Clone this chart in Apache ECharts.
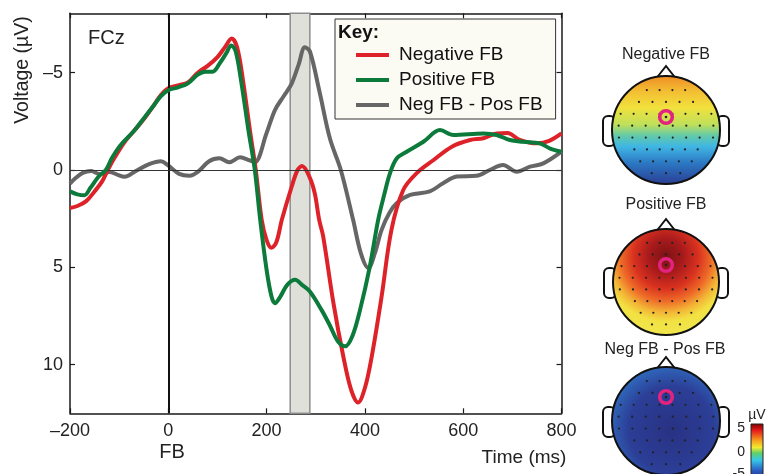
<!DOCTYPE html>
<html><head><meta charset="utf-8">
<script src="https://cdn.jsdelivr.net/npm/echarts@6/dist/echarts.min.js"></script>
<style>html,body{margin:0;padding:0;background:#fff}#c{width:766px;height:474px}</style>
</head><body><div id="c"></div>
<script>
// ---------- data ----------
const xTicks = [-200, 0, 200, 400, 600, 800];
const yTicks = [-5, 0, 5, 10];
const seriesNames = ['Negative FB', 'Positive FB', 'Neg FB - Pos FB'];

const negTimes  = [-200,-185,-167,-150,-135,-123,-110,-90,-70,-50,-30,-15,0,20,40,60,80,100,115,129,140,152,166,178,190,200,210,220,231,251,263,272,288,298,307,315,336,356,372,386,400,414,434,454,478,505,539,577,614,641,668,690,715,750,775,800];
const negValues = [1.95,1.85,1.6,1.1,0.6,0,-0.6,-1.4,-2.0,-2.6,-3.3,-3.85,-4.2,-4.35,-4.5,-5.0,-5.35,-5.8,-6.3,-6.75,-6.3,-4.6,-2.05,0,2.56,3.6,4.0,3.7,2.56,0.86,0.0,-0.2,0.4,1.2,2.56,3.4,6.84,9.57,11.3,11.95,11.2,9.57,6.5,3.08,1.03,0.17,-0.5,-1.2,-1.54,-1.63,-1.88,-1.9,-1.55,-1.37,-1.5,-1.88];

const posTimes  = [-200,-185,-171,-158,-142,-127,-115,-98,-70,-50,-30,-15,0,20,40,60,75,90,105,118,128,137,148,163,176,187,200,210,217,228,242,258,272,288,312,329,345,360,375,390,410,427,440,451,465,485,519,553,580,641,668,695,722,756,777,800];
const posValues = [1.1,1.25,1.3,0.9,0.35,0,-0.6,-1.25,-2.0,-2.65,-3.3,-3.8,-4.1,-4.25,-4.45,-4.9,-5.05,-5.05,-5.5,-6.0,-6.4,-6.1,-4.6,-2.05,0,2.56,5.13,6.5,6.84,6.5,5.9,5.64,5.9,6.24,7.2,8.0,8.8,9.06,8.5,7.2,4.96,2.56,1.2,0.17,-0.6,-0.94,-1.45,-2.05,-1.8,-1.88,-1.8,-1.54,-1.45,-1.37,-1.1,-0.94];

const difTimes  = [-200,-188,-174,-157,-140,-120,-103,-89,-66,-39,-15,-1,22,43,60,83,104,124,146,165,176,200,217,235,251,265,278,288,307,329,351,376,392,407,420,434,450,465,492,532,559,587,627,654,681,709,736,763,800];
const difValues = [0.7,0.4,0.15,0.05,0.2,0.1,0.25,0.35,0.05,-0.3,-0.45,-0.25,0.2,0.3,0.1,-0.45,-0.6,-0.4,-0.65,-0.5,-0.4,-1.9,-3.08,-3.8,-4.44,-5.4,-6.3,-6.1,-4.1,-1.6,0.0,2.56,4.3,5.04,4.3,3.08,2.2,1.7,1.28,1.1,0.68,0.34,0.3,0.0,-0.26,0.09,-0.17,-0.34,-0.94];

const bandStart = 248, bandEnd = 288;

// ---------- chart ----------
const FONT = 'Liberation Sans, Arial, Helvetica, sans-serif';
const zip = (t, v) => t.map((x, i) => [x, v[i]]);
const fmt = v => (v < 0 ? '\u2013' + (-v) : String(v));

const axisLine = { show: true, onZero: false, lineStyle: { color: '#1a1a1a', width: 1.5 } };
const tick = { show: true, inside: true, length: 5, lineStyle: { color: '#1a1a1a', width: 1.2 } };

// topographic head drawings (decoration)
function head(cx, cy, r, fill, ringDy) {
  const els = [];
  [-1, 1].forEach(s => {
    els.push({ type: 'rect', shape: { x: cx + s * (r + 3) - 6, y: cy - 14, width: 12, height: 30, r: 5 },
      style: { fill: '#fff', stroke: '#111', lineWidth: 2 }, z: 10 });
  });
  els.push({ type: 'polygon', shape: { points: [[cx - 11, cy - r + 4], [cx, cy - r - 10], [cx + 11, cy - r + 4]] },
    style: { fill: '#fff', stroke: '#111', lineWidth: 2 }, z: 10 });
  els.push({ type: 'circle', shape: { cx, cy, r }, style: { fill, stroke: '#111', lineWidth: 2 }, z: 11 });
  const rows = [-0.74, -0.52, -0.3, -0.08, 0.14, 0.36, 0.58, 0.8];
  rows.forEach((ry, k) => {
    const half = Math.sqrt(Math.max(0, 1 - ry * ry)) * 0.88;
    const n = Math.max(2, Math.round(half * 2 / 0.25));
    for (let j = 0; j <= n; j++) {
      const rx = -half + j * (2 * half / n);
      if (rx * rx + ry * ry > 0.8) continue;
      els.push({ type: 'circle', shape: { cx: cx + rx * r, cy: cy + ry * r, r: 1.1 }, style: { fill: '#222' }, z: 12 });
    }
  });
  els.push({ type: 'circle', shape: { cx, cy: cy + ringDy, r: 6.3 }, style: { fill: 'none', stroke: '#e2237f', lineWidth: 3.6 }, z: 13 });
  els.push({ type: 'circle', shape: { cx, cy: cy + ringDy, r: 1.3 }, style: { fill: '#222' }, z: 13 });
  return els;
}

const lin = (stops) => ({ type: 'linear', x: 0, y: 0, x2: 0, y2: 1, colorStops: stops.map(s => ({ offset: s[0], color: s[1] })) });
const rad = (x, y, r, stops) => ({ type: 'radial', x, y, r, colorStops: stops.map(s => ({ offset: s[0], color: s[1] })) });

const fill1 = lin([[0, '#ee8a24'], [0.15, '#f3be33'], [0.3, '#f1e13d'], [0.45, '#bfe05a'], [0.55, '#62caa8'], [0.65, '#40b6e4'], [0.8, '#2c78c3'], [1, '#2a3c93']]);
const fill2 = rad(0.5, 0.26, 0.72, [[0, '#7a1214'], [0.22, '#a81a1c'], [0.42, '#d9321f'], [0.58, '#ee6a28'], [0.72, '#f3b436'], [0.84, '#f2e142'], [1, '#f0e64c']]);
const fill3 = rad(0.55, 0.58, 0.78, [[0, '#283283'], [0.5, '#2c3e97'], [0.75, '#2f68bb'], [0.9, '#39a3db'], [1, '#4dc1e4']]);
const jet = lin([[0, '#7a0000'], [0.12, '#e41a1a'], [0.3, '#f7a020'], [0.42, '#f2ea30'], [0.52, '#5fd06a'], [0.64, '#35c8e8'], [0.82, '#2a5fc4'], [1, '#23236f']]);

const graphics = [
  { type: 'text', left: 88, top: 28, style: { text: 'FCz', font: '20px ' + FONT, fill: '#222' }, z: 20 },
  { type: 'text', x: 23, y: 70, rotation: Math.PI / 2, style: { text: 'Voltage (\u00b5V)', font: '19.5px ' + FONT, fill: '#222', align: 'center', verticalAlign: 'middle' }, z: 20 },
  { type: 'text', x: 172, y: 452, style: { text: 'FB', font: '20px ' + FONT, fill: '#222', align: 'center', verticalAlign: 'middle' }, z: 20 },
  { type: 'text', x: 524, y: 458, style: { text: 'Time (ms)', font: '19px ' + FONT, fill: '#222', align: 'center', verticalAlign: 'middle' }, z: 20 },
  { type: 'text', x: 338, y: 33, style: { text: 'Key:', font: 'bold 19px ' + FONT, fill: '#111', align: 'left', verticalAlign: 'middle' }, z: 120 },
  { type: 'text', x: 666, y: 55, style: { text: 'Negative FB', font: '16px ' + FONT, fill: '#222', align: 'center', verticalAlign: 'middle' }, z: 20 },
  { type: 'text', x: 666, y: 205, style: { text: 'Positive FB', font: '16px ' + FONT, fill: '#222', align: 'center', verticalAlign: 'middle' }, z: 20 },
  { type: 'text', x: 665, y: 350, style: { text: 'Neg FB - Pos FB', font: '16px ' + FONT, fill: '#222', align: 'center', verticalAlign: 'middle' }, z: 20 },
  ...head(666, 130, 54, fill1, -13),
  ...head(666, 282, 53, fill2, -17),
  ...head(666, 421, 54, fill3, -24),
  { type: 'rect', shape: { x: 751, y: 424, width: 12, height: 56 }, style: { fill: jet, stroke: '#222', lineWidth: 1 }, z: 20 },
  { type: 'text', x: 757, y: 415, style: { text: '\u00b5V', font: '14px ' + FONT, fill: '#222', align: 'center', verticalAlign: 'middle' }, z: 20 },
  { type: 'text', x: 745, y: 428, style: { text: '5', font: '14px ' + FONT, fill: '#222', align: 'right', verticalAlign: 'middle' }, z: 20 },
  { type: 'text', x: 745, y: 452, style: { text: '0', font: '14px ' + FONT, fill: '#222', align: 'right', verticalAlign: 'middle' }, z: 20 },
  { type: 'text', x: 745, y: 474, style: { text: '-5', font: '14px ' + FONT, fill: '#222', align: 'right', verticalAlign: 'middle' }, z: 20 }
];

const chart = echarts.init(document.getElementById('c'), null, { renderer: 'canvas' });
chart.setOption({
  animation: false,
  backgroundColor: '#fff',
  textStyle: { fontFamily: FONT },
  grid: { left: 70, right: 204.5, top: 13.3, bottom: 60.7, containLabel: false },
  xAxis: [
    { type: 'value', min: -200, max: 800, interval: 200, position: 'bottom',
      axisLine, axisTick: tick, splitLine: { show: false },
      axisLabel: { fontSize: 18, color: '#222', margin: 9, formatter: fmt, fontFamily: FONT } },
    { type: 'value', min: -200, max: 800, interval: 200, position: 'top',
      axisLine, axisTick: tick, splitLine: { show: false }, axisLabel: { show: false } }
  ],
  yAxis: [
    { type: 'value', inverse: true, min: -8.05, max: 12.5, position: 'left',
      axisLine, axisTick: Object.assign({ customValues: yTicks }, tick), splitLine: { show: false },
      axisLabel: { customValues: yTicks, fontSize: 18, color: '#222', margin: 7, formatter: fmt, fontFamily: FONT } },
    { type: 'value', inverse: true, min: -8.05, max: 12.5, position: 'right',
      axisLine, axisTick: Object.assign({ customValues: yTicks }, tick), splitLine: { show: false },
      axisLabel: { show: false } }
  ],
  legend: {
    data: seriesNames, left: 335, top: 19, orient: 'vertical',
    backgroundColor: '#fbfbf4', borderColor: '#333', borderWidth: 1, borderRadius: 0,
    padding: [26, 13, 4, 21], itemWidth: 33, itemHeight: 4, itemGap: 5, icon: 'rect',
    selectedMode: false, z: 100,
    textStyle: { fontSize: 19, color: '#111', fontFamily: FONT, lineHeight: 20, padding: [0, 0, 0, 5] }
  },
  series: [
    { name: 'band', type: 'line', data: [], z: 1, silent: true,
      markArea: { silent: true, itemStyle: { color: '#dfe0da', borderColor: '#8d8d8d', borderWidth: 1.5 },
        data: [[{ xAxis: bandStart }, { xAxis: bandEnd }]] },
      markLine: { silent: true, symbol: 'none', label: { show: false },
        data: [
          { xAxis: 0, lineStyle: { color: '#111', width: 2, type: 'solid' } },
          { yAxis: 0, lineStyle: { color: '#333', width: 1, type: 'solid' } }
        ] } },
    { name: seriesNames[2], type: 'line', data: zip(difTimes, difValues), z: 3, color: '#666666',
      showSymbol: false, symbol: 'none', smooth: 0.35, lineStyle: { color: '#666666', width: 4 } },
    { name: seriesNames[0], type: 'line', data: zip(negTimes, negValues), z: 4, color: '#dd2329',
      showSymbol: false, symbol: 'none', smooth: 0.35, lineStyle: { color: '#dd2329', width: 4 } },
    { name: seriesNames[1], type: 'line', data: zip(posTimes, posValues), z: 5, color: '#0c7a3a',
      showSymbol: false, symbol: 'none', smooth: 0.35, lineStyle: { color: '#0c7a3a', width: 4 } }
  ],
  graphic: graphics
});
</script></body></html>
